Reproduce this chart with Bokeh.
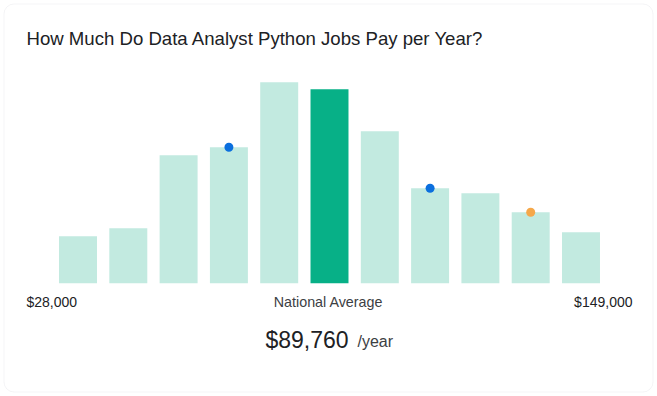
from bokeh.plotting import figure
from bokeh.models import Range1d, Label, BoxAnnotation, ColumnDataSource
from bokeh.embed import file_html
from bokeh.resources import INLINE

# Data
bins = list(range(11))
counts = [47, 55, 128, 136, 201, 194, 152, 95, 90, 71, 51]
highlight = 5
marker_bins = [3, 7, 9]
marker_colors = ["#0b6fde", "#0b6fde", "#f5a84a"]
title_text = "How Much Do Data Analyst Python Jobs Pay per Year?"
low_label = "$28,000"
high_label = "$149,000"
mid_label = "National Average"
avg_label = "$89,760"
unit_label = "/year"

W, H = 657, 396
p = figure(width=W, height=H, output_backend="svg", toolbar_location=None,
           x_range=Range1d(-1.541, 11.521), y_range=Range1d(-113.3, 282.7),
           min_border=0, background_fill_color="white", border_fill_color="white")
p.axis.visible = False
p.grid.visible = False
p.outline_line_color = None

card = BoxAnnotation(left=3.5, right=652.5, bottom=H - 391.5, top=H - 3.5,
                     left_units="screen", right_units="screen",
                     bottom_units="screen", top_units="screen",
                     fill_color="white", fill_alpha=1.0,
                     line_color="#dadce0", line_width=1, border_radius=10,
                     level="underlay")
p.add_layout(card)

colors = ["#07b087" if i == highlight else "#c2eae0" for i in bins]
src = ColumnDataSource(dict(x=bins, top=counts, color=colors))
p.vbar(x="x", top="top", bottom=0, width=0.755, fill_color="color",
       line_color=None, source=src)

msrc = ColumnDataSource(dict(x=marker_bins, y=[counts[i] for i in marker_bins],
                             color=marker_colors))
p.scatter(x="x", y="y", size=9, fill_color="color", line_color=None, source=msrc)

font = "Liberation Sans"
def lab(text, x, y, size, color, align="left", baseline="middle"):
    p.add_layout(Label(x=x, y=y, x_units="screen", y_units="screen", text=text,
                       text_font=font, text_font_size=size, text_color=color,
                       text_align=align, text_baseline=baseline))

lab(title_text, 26, H - 38, "18.6px", "#202124")
lab(low_label, 26, H - 301, "14px", "#202124")
lab(mid_label, 328, H - 301, "14.3px", "#3c4043", align="center")
lab(high_label, 632, H - 301, "14px", "#202124", align="right")
lab(avg_label, 265, H - 339, "23px", "#202124")
lab(unit_label, 357, H - 341, "16px", "#3c4043")

open("out.html", "w").write(file_html(p, INLINE))
